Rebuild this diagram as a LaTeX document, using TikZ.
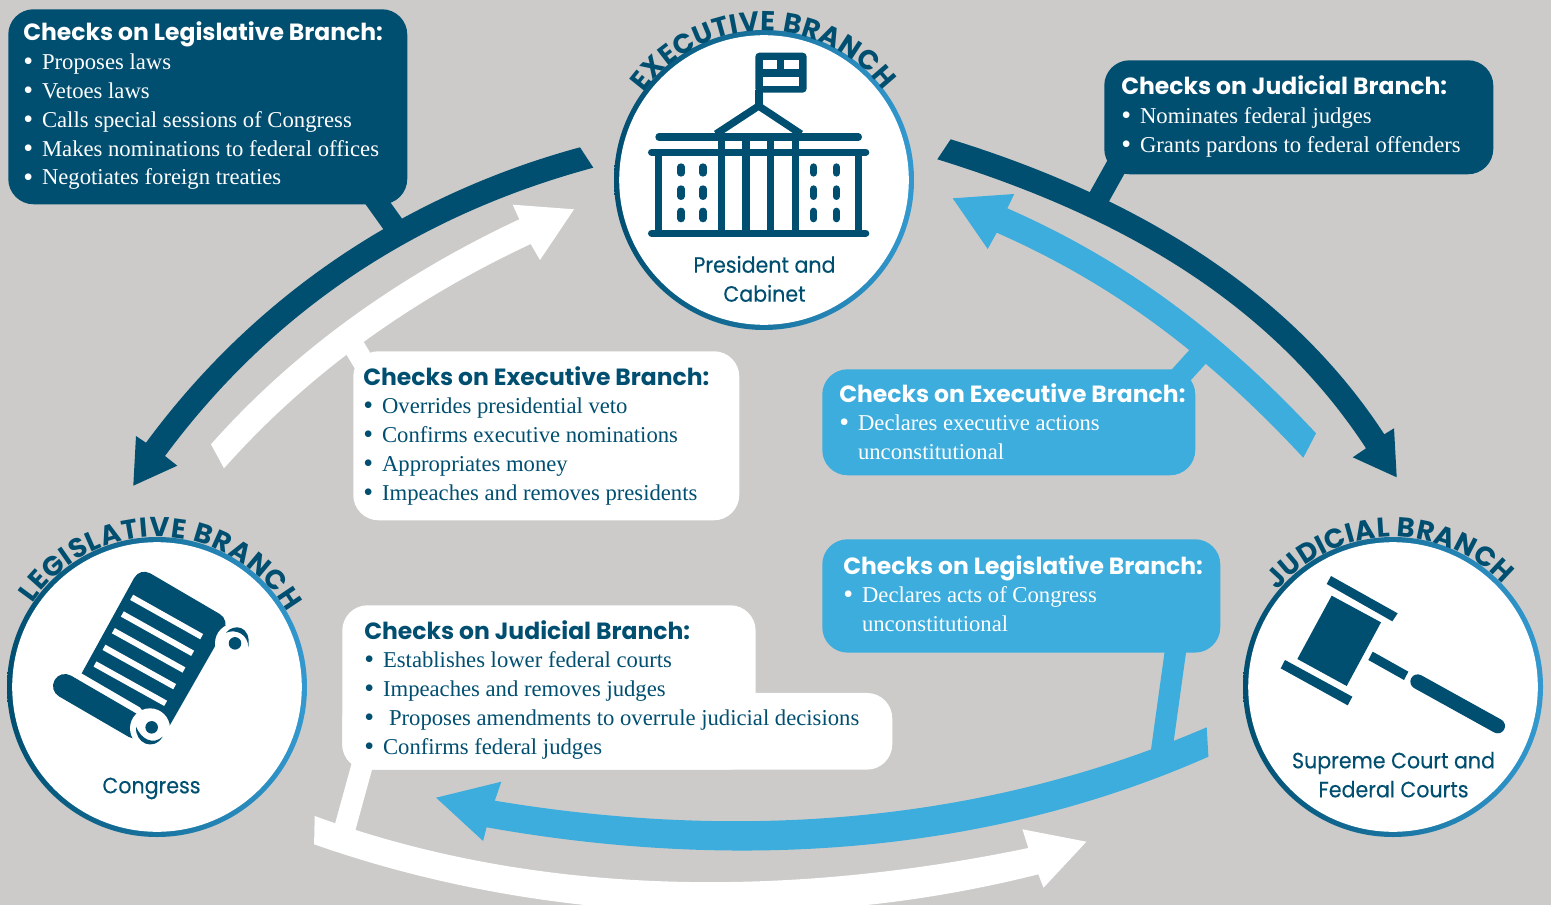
\documentclass[tikz,border=0pt]{standalone}
\usepackage{fontspec}
\usetikzlibrary{decorations.text}
\setmainfont{Liberation Serif}
\newfontfamily\hdf{Poppins}
\newfontfamily\labf[FakeStretch=0.93,FakeBold=0.25]{Poppins}
\newfontfamily\serf{Liberation Serif}
\definecolor{dark}{HTML}{004F71}
\definecolor{lite}{HTML}{3DADDD}
\definecolor{ringend}{HTML}{3399CF}
\definecolor{bg}{HTML}{CCCBC9}
\newcommand\hdr[1]{\hbox{\hdf\bfseries\fontsize{17.6pt}{21.6pt}\selectfont #1}}
\newcommand\itm[1]{\hbox{\makebox[14.1pt][l]{\raisebox{-0.8pt}{\fontsize{21pt}{21.6pt}\selectfont •}}#1}}
\newcommand\cnt[1]{\hbox{\hspace{14.1pt}#1}}
\newcommand\ctext[1]{\vtop{\serf\fontsize{17pt}{21.6pt}\selectfont\baselineskip=21.6pt\lineskiplimit=-20pt #1}}
\tikzset{
  callbox/.style={anchor=north west,inner sep=0pt,rounded corners=19pt},
  calltext/.style={anchor=base west,inner sep=0pt},
  stem/.style={line width=16pt},
  lab/.style={anchor=base,inner sep=0pt,text=dark,font=\labf\fontsize{16.6pt}{20pt}\selectfont},
  ink/.style={fill=dark,draw=none},
  bar/.style={draw=dark,line width=5.5pt,line cap=round},
  winbar/.style={draw=dark,line width=5.5pt,line cap=round},
  paperline/.style={draw=white,line width=4.5pt},
  ringbody/.style={left color=dark,right color=ringend},
}
\newcommand\branchring[1]{%
  \shade[ringbody] (#1) circle[radius=112.5pt];
  \fill[white] (#1) circle[radius=108.6pt];
}
\newcommand\banner[5]{%
  \begin{scope}[shift={(#1)},x=.75pt,y=.75pt]
    \path[decorate,decoration={text along path,text color=dark,text align={fit to path},
      text={|\hdf\bfseries\fontsize{20.5pt}{24pt}\selectfont|#5}}]
      (#2:#4) arc[start angle=#2,end angle=#3,radius=#4];
  \end{scope}}
\begin{document}
\begin{tikzpicture}[x=.75pt,y=-.75pt]
\useasboundingbox (0,0) rectangle (1551,905);
\clip (0,0) rectangle (1551,905);
\fill[bg] (0,0) rectangle (1551,905);

% arrow coordinates
\coordinate (a1u) at (580,147.3); \coordinate (a1l) at (593.3,167.7);
\coordinate (a1n1) at (146,442.7); \coordinate (a1b1) at (136,436); \coordinate (a1tip) at (133.3,485.7);
\coordinate (a1b2) at (177.3,465.7); \coordinate (a1n2) at (165,456);
\coordinate (a2u) at (211,444.3); \coordinate (a2l) at (224,468.3);
\coordinate (a2n1) at (519.3,219.3); \coordinate (a2b1) at (512.7,204.7); \coordinate (a2tip) at (574,209.3);
\coordinate (a2b2) at (540,260); \coordinate (a2n2) at (530.7,244);
\coordinate (a3u) at (950.7,139.3); \coordinate (a3l) at (937.3,159.3);
\coordinate (a3n1) at (1384.3,434.3); \coordinate (a3b1) at (1394,428.3); \coordinate (a3tip) at (1396.7,477.3);
\coordinate (a3b2) at (1352.7,457.3); \coordinate (a3n2) at (1366,448.3);
\coordinate (a4u) at (1316,433.3); \coordinate (a4l) at (1303.3,457.7);
\coordinate (a4n1) at (1007.3,208.3); \coordinate (a4b1) at (1014.3,194); \coordinate (a4tip) at (952.7,198.3);
\coordinate (a4b2) at (987.7,249); \coordinate (a4n2) at (996.7,232.7);
\coordinate (a5u) at (1206.7,727.3); \coordinate (a5l) at (1208.4,756.7);
\coordinate (a5n1) at (494.8,800.7); \coordinate (a5b1) at (501.3,781.7); \coordinate (a5tip) at (436.1,797.7);
\coordinate (a5b2) at (483.1,841); \coordinate (a5n2) at (486.6,827.3);
\coordinate (a6u) at (314.7,816); \coordinate (a6l) at (314.1,844.3);
\coordinate (a6n1) at (1028.3,848); \coordinate (a6b1) at (1022.4,829.3); \coordinate (a6tip) at (1086.4,841.7);
\coordinate (a6b2) at (1043.5,887.7); \coordinate (a6n2) at (1038.3,874.3);

% arrows
\fill[dark] (a1u) .. controls (404.5,195) and (254,296) .. (a1n1) -- (a1b1) -- (a1tip) -- (a1b2) -- (a1n2)
  .. controls (273,310) and (418,215) .. (a1l) -- cycle;
\fill[white] (a2u) .. controls (296.3,348.1) and (402.5,274) .. (a2n1) -- (a2b1) -- (a2tip) -- (a2b2) -- (a2n2)
  .. controls (413.9,298.6) and (309.3,372.1) .. (a2l) -- cycle;
\fill[dark] (a3u) .. controls (1123,192.6) and (1285,282) .. (a3n1) -- (a3b1) -- (a3tip) -- (a3b2) -- (a3n2)
  .. controls (1266.5,296) and (1109.5,212.6) .. (a3l) -- cycle;
\fill[lite] (a4u) .. controls (1225,335.6) and (1129.5,262) .. (a4n1) -- (a4b1) -- (a4tip) -- (a4b2) -- (a4n2)
  .. controls (1118.9,286.4) and (1212.3,360) .. (a4l) -- cycle;
\fill[lite] (a5u) .. controls (980,824.6) and (737,841) .. (a5n1) -- (a5b1) -- (a5tip) -- (a5b2) -- (a5n2)
  .. controls (729,870.5) and (981.5,857) .. (a5l) -- cycle;
\fill[white] (a6u) .. controls (541.7,899) and (792.4,897) .. (a6n1) -- (a6b1) -- (a6tip) -- (a6b2) -- (a6n2)
  .. controls (802.4,934) and (541,924) .. (a6l) -- cycle;

% stems
\coordinate (s1a) at (372,195); \coordinate (s1b) at (397,230);
\coordinate (s2a) at (1121,158); \coordinate (s2b) at (1097,201);
\coordinate (s3a) at (367,368); \coordinate (s3b) at (350,340);
\coordinate (s4a) at (1172,385); \coordinate (s4b) at (1202,352);
\coordinate (s5a) at (1177,640); \coordinate (s5b) at (1161,755);
\coordinate (s6a) at (365,755); \coordinate (s6b) at (343,835);
\draw[stem,dark] (s1a) -- (s1b);
\draw[stem,dark] (s2a) -- (s2b);
\draw[stem,white] (s3a) -- (s3b);
\draw[stem,lite] (s4a) -- (s4b);
\draw[stem,lite] (s5a) -- (s5b);
\draw[stem,white] (s6a) -- (s6b);

% callouts
\node[callbox,fill=dark,minimum width=299.25pt,minimum height=146.25pt] (c1) at (8,9) {};
\node[callbox,fill=dark,minimum width=291.75pt,minimum height=85.5pt] (c2) at (1104,60) {};
\node[callbox,fill=white,minimum width=289.5pt,minimum height=126.75pt] (c3) at (353,351) {};
\node[callbox,fill=lite,minimum width=279.75pt,minimum height=79.5pt] (c4) at (822,369) {};
\node[callbox,fill=lite,minimum width=298.5pt,minimum height=85pt] (c5) at (822,539) {};
\node[callbox,fill=white,minimum width=310pt,minimum height=123.2pt] (c6a) at (342,605) {};
\node[callbox,fill=white,minimum width=412.5pt,minimum height=57.5pt] (c6b) at (342,692.7) {};

\node[calltext,text=white] (t1) at (23,41) {\ctext{\hdr{Checks on Legislative Branch:}
  \itm{Proposes laws}\itm{Vetoes laws}\itm{Calls special sessions of Congress}
  \itm{Makes nominations to federal offices}\itm{Negotiates foreign treaties}}};
\node[calltext,text=white] (t2) at (1121,95) {\ctext{\hdr{Checks on Judicial Branch:}
  \itm{Nominates federal judges}\itm{Grants pardons to federal offenders}}};
\node[calltext,text=dark] (t3) at (363,385) {\ctext{\hdr{Checks on Executive Branch:}
  \itm{Overrides presidential veto}\itm{Confirms executive nominations}
  \itm{Appropriates money}\itm{Impeaches and removes presidents}}};
\node[calltext,text=white] (t4) at (839,402) {\ctext{\hdr{Checks on Executive Branch:}
  \itm{Declares executive actions}\cnt{unconstitutional}}};
\node[calltext,text=white] (t5) at (843,574) {\ctext{\hdr{Checks on Legislative Branch:}
  \itm{Declares acts of Congress}\cnt{unconstitutional}}};
\node[calltext,text=dark] (t6) at (364,639) {\ctext{\hdr{Checks on Judicial Branch:}
  \itm{Establishes lower federal courts}\itm{Impeaches and removes judges}
  \itm{\hspace{4.5pt}Proposes amendments to overrule judicial decisions}\itm{Confirms federal judges}}};

% branch circles
\coordinate (ex) at (764,180);
\coordinate (le) at (157,687);
\coordinate (ju) at (1393,687);
\branchring{ex}
\branchring{le}
\branchring{ju}
\banner{ex}{144}{37}{149}{EXECUTIVE BRANCH}
\banner{le}{146}{30}{150}{LEGISLATIVE BRANCH}
\banner{ju}{140}{43}{150}{JUDICIAL BRANCH}

\node[lab] (l1) at (764.5,272.7) {President and};
\node[lab] (l2) at (764.5,301.7) {Cabinet};
\node[lab] (l3) at (151.5,793.3) {Congress};
\node[lab] (l4) at (1393.5,768.3) {Supreme Court and};
\node[lab] (l5) at (1393.5,797.3) {Federal Courts};

% building icon
\begin{scope}[shift={(610,0)},x=.25pt,y=-.25pt]
  \fill[ink,rounded corners=3pt] (436,158) rectangle (590,278);
  \fill[white] (458,180) rectangle (500,208);
  \fill[white] (523,180) rectangle (568,208);
  \fill[white] (458,230) rectangle (568,258);
  \draw[dark,line width=5.5pt] (447,270) -- (447,315);
  \draw[dark,line width=5.5pt,line join=miter] (318,402) -- (446,318) -- (573,402);
  \draw[bar] (147,411) -- (745,411);
  \draw[bar] (125,457) -- (767,457);
  \draw[bar] (125,700) -- (767,700);
  \draw[dark,line width=5.5pt] (146,457) -- (146,700);
  \draw[dark,line width=5.5pt] (335,411) -- (335,700);
  \draw[dark,line width=5.5pt] (408,411) -- (408,700);
  \draw[dark,line width=5.5pt] (482,411) -- (482,700);
  \draw[dark,line width=5.5pt] (557,411) -- (557,700);
  \draw[dark,line width=5.5pt] (745,457) -- (745,700);
  \foreach \wx in {213,279,611,679}{
    \draw[winbar] (\wx,501) -- (\wx,519);
    \draw[winbar] (\wx,567) -- (\wx,589);
    \draw[winbar] (\wx,634) -- (\wx,656);
  }
\end{scope}

% scroll icon
\begin{scope}[shift={(0,510)},x=.25pt,y=-.25pt]
  \fill[ink] (245,490) [rounded corners=9pt] -- (420,172) -- (690,330) [sharp corners] -- (490,680) -- (420,592) -- cycle;
  \draw[dark,line width=18pt,line cap=round] (195,528) -- (405,650);
  \fill[white] (450,655) circle[radius=15pt];
  \fill[white] (705,400) circle[radius=15pt];
  \fill[ink] (455,652) circle[radius=4.7pt];
  \fill[ink] (705,400) circle[radius=4.7pt];
  \fill[ink] (408,650) .. controls (405,700) and (460,725) .. (488,680) .. controls (460,705) and (425,690) .. cycle;
  \fill[ink] (678,368) .. controls (700,340) and (755,345) .. (745,412) .. controls (745,375) and (710,355) .. cycle;
  \draw[paperline] (395,262) -- (605,380);
  \draw[paperline] (367,312) -- (578,430);
  \draw[paperline] (340,362) -- (552,480);
  \draw[paperline] (312,412) -- (524,530);
  \draw[paperline] (285,462) -- (497,580);
\end{scope}

% gavel icon
\begin{scope}[shift={(1235,510)},x=.25pt,y=-.25pt]
  \fill[ink] (288,198) -- (488,310) -- (472,334) -- (275,222) -- cycle;
  \fill[ink] (150,450) -- (352,560) -- (338,586) -- (137,475) -- cycle;
  \fill[ink] (290,257) -- (438,337) -- (335,528) -- (187,447) -- cycle;
  \fill[ink] (413,425) -- (520,485) -- (507,510) -- (400,450) -- cycle;
  \draw[dark,line width=11pt,line cap=round] (548,515) -- (788,648);
\end{scope}
\end{tikzpicture}
\end{document}
